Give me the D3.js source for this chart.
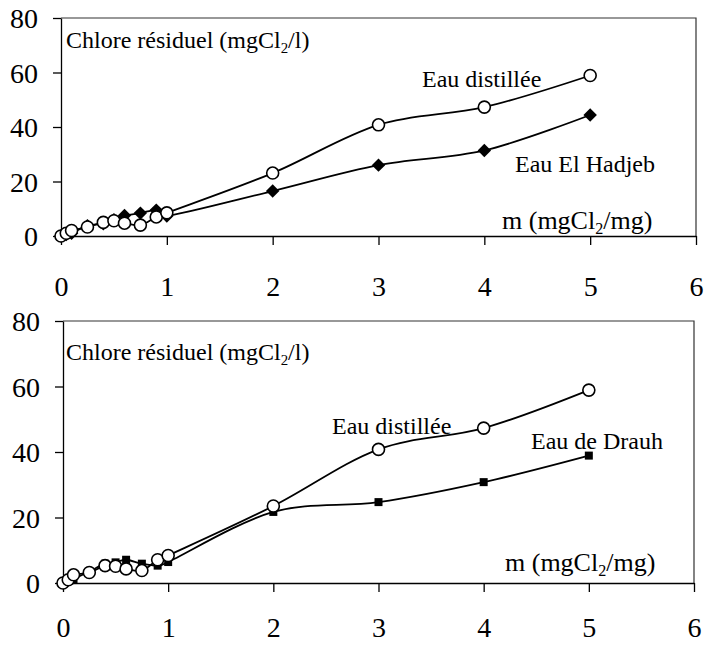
<!DOCTYPE html>
<html>
<head>
<meta charset="utf-8">
<script src="https://cdn.jsdelivr.net/npm/d3@7"></script>
<style>
  body { margin: 0; background: #fff; }
  svg text { font-family: "Liberation Serif", "Times New Roman", serif; }
</style>
</head>
<body>
<div id="chart"></div>
<script>
// ------- Data -------
const doses = [0, 0.05, 0.1, 0.25, 0.4, 0.5, 0.6, 0.75, 0.9, 1, 2, 3, 4, 5];
const distilleeTop = [0, 1, 2, 3.3, 5, 5.6, 4.7, 4, 7, 8.5, 23.1, 40.8, 47.3, 58.9];
const hadjeb = [0, 0.5, 1, 3.8, 4.5, 6, 7.5, 8.4, 9.5, 7.3, 16.5, 26, 31.4, 44.4];
const dosesDrauh = [0, 0.03, 0.06, 0.1, 0.25, 0.4, 0.5, 0.6, 0.75, 0.9, 1, 2, 3, 4, 5];
const distilleeBottom = [0, 1, 2.5, 3.2, 5.3, 5.1, 4.3, 3.8, 7.1, 8.4, 23.5, 40.8, 47.3, 58.9];
const drauh = [0, 0.4, 0.8, 1.2, 3.5, 5.9, 6.3, 7.1, 5.9, 5.3, 6.4, 21.7, 24.7, 30.8, 38.9];
const xTicks = [0, 1, 2, 3, 4, 5, 6];
const yTicks = [0, 20, 40, 60, 80];

const svg = d3.select("#chart")
  .append("svg")
  .attr("width", 705)
  .attr("height", 650);

const line = (x, y) => d3.line()
  .x(d => x(d[0]))
  .y(d => y(d[1]))
  .curve(d3.curveCardinal.tension(0));

// text like "m (mgCl2/mg)" with the 2 as subscript
function chemText(g, x, y, before, after, size) {
  const t = g.append("text")
    .attr("x", x)
    .attr("y", y)
    .style("font-size", size + "px");
  t.append("tspan").text(before);
  t.append("tspan").attr("dy", 5).style("font-size", (size * 0.62) + "px").text("2");
  t.append("tspan").attr("dy", -5).text(after);
}

function panel(opt) {
  const x = d3.scaleLinear().domain([0, 6]).range([opt.left, opt.right]);
  const y = d3.scaleLinear().domain([0, 80]).range([opt.bottom, opt.top]);
  const g = svg.append("g");

  // box (top + right)
  g.append("path")
    .attr("d", `M${opt.left},${opt.top}H${opt.right}V${opt.bottom}`)
    .attr("fill", "none")
    .attr("stroke", "#333")
    .attr("stroke-width", 1.2);

  // y axis
  const ya = g.append("g")
    .attr("transform", `translate(${opt.left},0)`)
    .call(d3.axisLeft(y).tickValues(yTicks).tickSize(8).tickSizeOuter(0).tickPadding(15).tickFormat(d3.format("d")));
  ya.selectAll("text").style("font-size", "28px").attr("dy", "0.34em");

  // x axis
  const xa = g.append("g")
    .attr("transform", `translate(0,${opt.bottom})`)
    .call(d3.axisBottom(x).tickValues(xTicks).tickSize(9).tickSizeOuter(0).tickFormat(d3.format("d")));
  xa.selectAll("text")
    .style("font-size", "28px")
    .attr("y", opt.labelOffset)
    .attr("dy", null);

  g.selectAll(".domain, .tick line").attr("stroke", "#000").attr("stroke-width", 1.3);

  // series
  opt.series.forEach(s => {
    const pts = s.xs.map((v, i) => [v, s.ys[i]]);
    g.append("path")
      .datum(pts)
      .attr("fill", "none")
      .attr("stroke", "#000")
      .attr("stroke-width", 1.8)
      .attr("d", line(x, y));

    if (s.marker === "circle") {
      g.selectAll(null).data(pts).enter().append("circle")
        .attr("cx", d => x(d[0]))
        .attr("cy", d => y(d[1]))
        .attr("r", 6)
        .attr("fill", "#fff")
        .attr("stroke", "#000")
        .attr("stroke-width", 1.6);
    } else {
      const sym = d3.symbol().type(d3.symbolSquare).size(s.marker === "diamond" ? 90 : 64);
      g.selectAll(null).data(pts).enter().append("path")
        .attr("d", sym)
        .attr("transform", d => `translate(${x(d[0])},${y(d[1])})` + (s.marker === "diamond" ? " rotate(45)" : ""))
        .attr("fill", "#000");
    }
  });

  // labels
  chemText(g, 66, opt.titleY, "Chlore résiduel (mgCl", "/l)", 24);
  chemText(g, opt.unitX, opt.unitY, "m (mgCl", "/mg)", 26);
  opt.labels.forEach(l => {
    g.append("text")
      .attr("x", l.x)
      .attr("y", l.y)
      .style("font-size", "24px")
      .text(l.text);
  });
}

// ------- Top chart -------
panel({
  left: 61, right: 696, top: 18, bottom: 236,
  labelOffset: 60,
  titleY: 48,
  unitX: 502, unitY: 229,
  series: [
    { xs: doses, ys: hadjeb, marker: "diamond" },
    { xs: doses, ys: distilleeTop, marker: "circle" }
  ],
  labels: [
    { text: "Eau distillée", x: 422, y: 87 },
    { text: "Eau El Hadjeb", x: 515, y: 172 }
  ]
});

// ------- Bottom chart -------
panel({
  left: 63, right: 694, top: 321, bottom: 583,
  labelOffset: 54,
  titleY: 360,
  unitX: 505, unitY: 571,
  series: [
    { xs: dosesDrauh, ys: drauh, marker: "square" },
    { xs: doses, ys: distilleeBottom, marker: "circle" }
  ],
  labels: [
    { text: "Eau distillée", x: 332, y: 434 },
    { text: "Eau de Drauh", x: 531, y: 449 }
  ]
});
</script>
</body>
</html>
